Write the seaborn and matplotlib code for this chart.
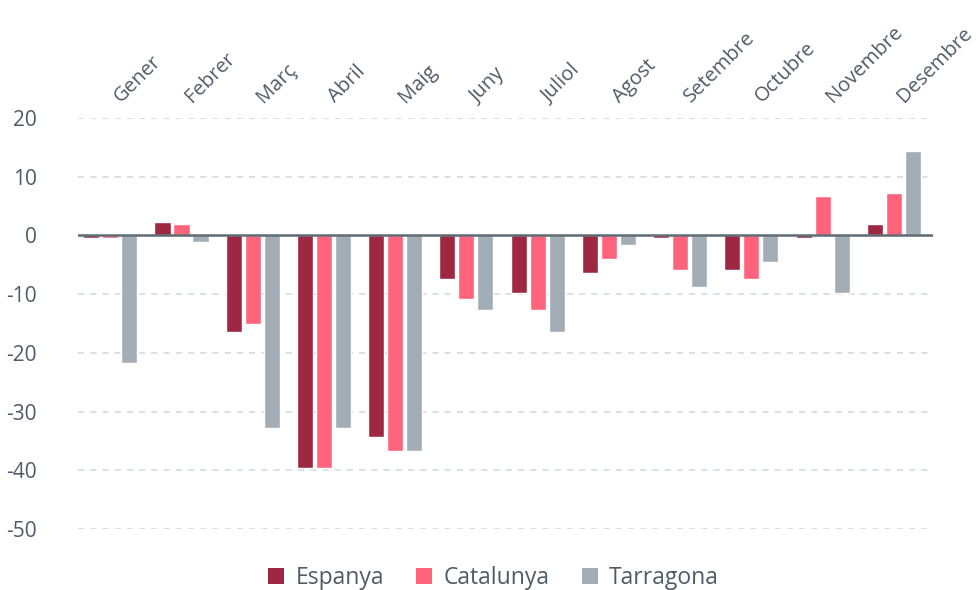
import numpy as np
import pandas as pd
import seaborn as sns
import matplotlib.pyplot as plt
import matplotlib.transforms as mtransforms
from matplotlib.patches import Patch

months = ["Gener", "Febrer", "Març", "Abril", "Maig", "Juny",
          "Juliol", "Agost", "Setembre", "Octubre", "Novembre", "Desembre"]
series = ["Espanya", "Catalunya", "Tarragona"]

espanya = [-0.5, 2.3, -16.4, -39.6, -34.3, -7.4, -9.8, -6.4, -0.5, -5.9, -0.5, 2.0]
catalunya = [-0.5, 2.0, -15.0, -39.6, -36.7, -10.8, -12.7, -4.0, -5.9, -7.4, 6.8, 7.3]
tarragona = [-21.7, -1.1, -32.8, -32.8, -36.7, -12.7, -16.4, -1.6, -8.8, -4.5, -9.8, 14.4]

yticks = [20, 10, 0, -10, -20, -30, -40, -50]
colors = ["#9E2842", "#FF647C", "#A2ADB5"]
text_color = "#4F5B66"

df = pd.DataFrame({
    "mes": months * 3,
    "zona": [s for s in series for _ in months],
    "valor": espanya + catalunya + tarragona,
})

sns.set_style("white")
plt.rcParams["font.family"] = ["Open Sans", "DejaVu Sans"]

fig = plt.figure(figsize=(9.77, 5.9), dpi=100)
ax = fig.add_axes([0.08, 0.103, 0.875, 0.697])

sns.barplot(data=df, x="mes", y="valor", hue="zona", order=months,
            hue_order=series, palette=colors, width=0.8, gap=0.15,
            saturation=1, ax=ax, legend=False, zorder=3)

ax.set_ylim(-50, 20)
ax.set_xlim(-0.45, 11.55)
ax.set_yticks(yticks)
ax.set_yticklabels([str(t) for t in yticks])

# dashed grid, solid zero line
for t in yticks:
    if t != 0:
        ax.axhline(t, color="#D0D7DE", lw=1.1, ls=(0, (4, 4)), zorder=1)
ax.axhline(0, color="#5F6B73", lw=1.8, zorder=4)

for sp in ax.spines.values():
    sp.set_visible(False)

ax.xaxis.tick_top()
ax.set_xlabel("")
ax.set_ylabel("")
ax.tick_params(axis="both", length=0, colors=text_color)
ax.tick_params(axis="y", labelsize=15, pad=30)
ax.set_xticks(range(len(months)))
ax.set_xticklabels(months, rotation=45, ha="left", va="bottom",
                   fontsize=14.5, color=text_color)
offset = mtransforms.ScaledTranslation(-18 / 100, 0, fig.dpi_scale_trans)
for lab in ax.get_xticklabels():
    lab.set_transform(lab.get_transform() + offset)
ax.tick_params(axis="x", pad=8)

handles = [Patch(facecolor=c, edgecolor="none") for c in colors]
leg = fig.legend(handles, series, loc="lower center", ncol=3,
                 bbox_to_anchor=(0.505, -0.035), frameon=False, fontsize=16.5,
                 handlelength=0.7, handleheight=0.7, handletextpad=0.5,
                 columnspacing=1.4)
for t in leg.get_texts():
    t.set_color(text_color)

fig.savefig("out.png", dpi=100)
